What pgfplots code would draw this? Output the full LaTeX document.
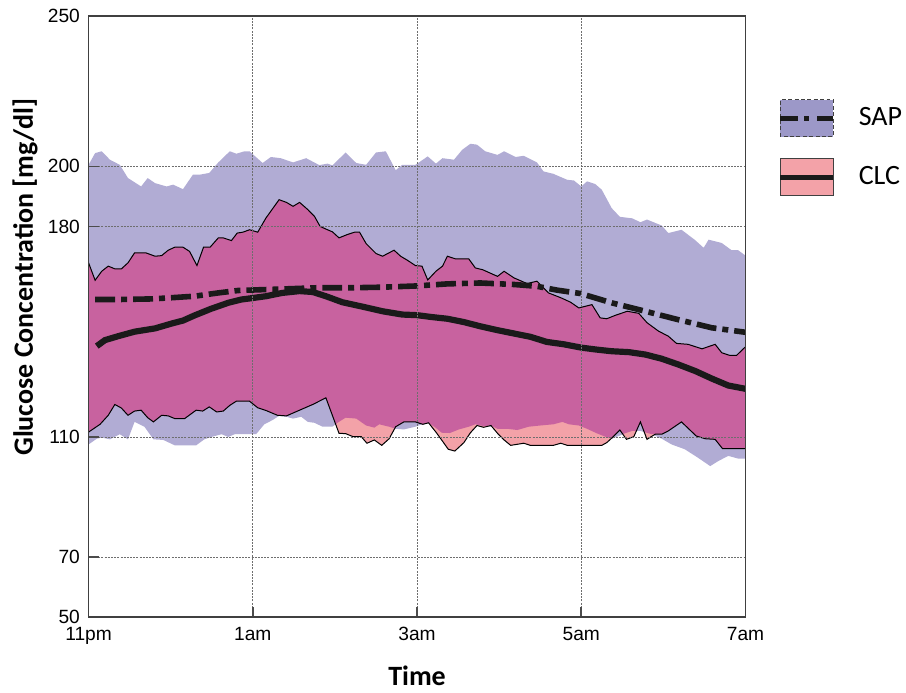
\documentclass[border=0pt]{standalone}
\usepackage{pgfplots}
\pgfplotsset{compat=1.18}
\usepgfplotslibrary{fillbetween}
\usepackage{fontspec}
\setmainfont{Carlito}
\newfontfamily\arialf{Liberation Sans}
\definecolor{sapfill}{RGB}{177,172,212}
\definecolor{saplegend}{RGB}{156,152,200}
\definecolor{clcfill}{RGB}{243,162,168}
\definecolor{overlap}{RGB}{200,98,159}
\definecolor{meanline}{RGB}{26,26,26}
\definecolor{gridc}{RGB}{110,110,110}
\begin{document}
\begin{tikzpicture}
\begin{axis}[
  at={(0pt,0pt)}, anchor=south west,
  scale only axis, width=329pt, height=301.15pt,
  xmin=0, xmax=8, ymin=50, ymax=250,
  xtick={0,2,4,6,8}, xticklabels={11pm,1am,3am,5am,7am},
  ytick={50,70,110,180,200,250},
  tick pos=left, tick align=inside,
  major tick length=5pt,
  grid=major,
  grid style={gridc, line width=0.4pt, dash pattern=on 1pt off 0.6pt},
  axis line style={black!75, line width=0.9pt},
  tick style={black!70, line width=0.8pt},
  axis on top,
  /pgf/number format/assume math mode=true,
  tick label style={font=\arialf\fontsize{9.6}{11}\selectfont},
  xticklabel style={anchor=base, yshift=-11.7pt},
  yticklabel style={xshift=-0.8pt},
  legend style={at={(1,1)}, anchor=north west, xshift=16pt, yshift=-41.5pt,
    draw=none, fill=none, inner sep=0pt, row sep=10.35pt,
    font=\fontsize{14}{16}\selectfont,
    /tikz/every odd column/.append style={column sep=9.5pt}},
  legend cell align=left,
]
% SAP band
\addplot[draw=none, name path=sapHi, forget plot] coordinates {
(0,200.5)(0.08,204.4)(0.16,205.0)(0.26,202.2)(0.38,200.5)(0.48,196.1)(0.64,193.3)(0.72,196.1)(0.81,194.4)(0.95,193.3)(1.03,193.9)(1.15,192.4)(1.27,197.2)(1.35,197.2)(1.47,197.8)(1.58,201.3)(1.72,205.0)(1.80,204.2)(1.90,205.0)(1.96,205.0)(2.12,201.1)(2.22,203.1)(2.34,202.7)(2.49,201.3)(2.65,202.7)(2.81,200.4)(2.91,200.9)(2.97,200.3)(3.13,204.6)(3.26,201.1)(3.38,200.5)(3.50,204.6)(3.62,205.0)(3.74,198.7)(3.82,200.5)(3.98,200.5)(4.13,203.3)(4.23,200.9)(4.31,202.7)(4.45,202.2)(4.55,205.5)(4.65,207.5)(4.73,207.2)(4.83,205.0)(4.98,203.8)(5.06,205.0)(5.20,203.1)(5.30,203.5)(5.46,201.3)(5.54,198.3)(5.66,197.5)(5.83,195.5)(5.91,195.3)(6.00,193.3)(6.07,195.0)(6.17,194.1)(6.25,192.2)(6.37,186.1)(6.47,183.2)(6.62,182.7)(6.72,181.4)(6.80,182.3)(6.98,180.3)(7.06,177.8)(7.22,178.9)(7.38,175.6)(7.49,172.9)(7.55,175.6)(7.71,174.5)(7.83,172.1)(7.91,172.1)(8.00,170.3)};
\addplot[draw=none, name path=sapLo, forget plot] coordinates {
(0,107.5)(0.10,109.4)(0.16,109.8)(0.26,109.2)(0.38,110.9)(0.48,109.2)(0.56,115.0)(0.68,113.4)(0.79,109.2)(0.91,109.0)(1.05,107.2)(1.17,107.2)(1.31,107.2)(1.41,109.2)(1.51,110.1)(1.62,110.9)(1.70,110.0)(1.78,110.9)(2.04,110.9)(2.14,114.2)(2.24,115.6)(2.32,117.0)(2.41,116.7)(2.49,116.1)(2.59,116.7)(2.67,115.0)(2.75,114.7)(2.85,113.4)(2.97,113.4)(3.03,114.7)(3.13,116.4)(3.26,116.1)(3.38,113.8)(3.48,113.1)(3.54,114.2)(3.66,113.4)(3.74,112.7)(3.84,112.5)(3.98,113.4)(4.06,114.2)(4.14,114.7)(4.23,113.0)(4.30,111.4)(4.40,111.3)(4.51,112.5)(4.63,113.4)(4.71,114.2)(4.81,113.6)(4.90,113.4)(4.98,112.7)(5.10,112.7)(5.22,112.3)(5.36,113.4)(5.50,113.8)(5.66,114.2)(5.77,115.0)(5.85,114.2)(5.97,113.8)(6.07,112.7)(6.19,111.2)(6.29,110.1)(6.37,109.4)(6.51,110.9)(6.62,112.0)(6.72,112.0)(6.86,110.9)(6.98,109.4)(7.10,107.5)(7.26,105.9)(7.42,103.1)(7.57,100.3)(7.67,102.0)(7.79,103.7)(7.91,102.8)(8.00,102.8)};
% CLC band (thin black outline)
\addplot[black, line width=0.5pt, name path=clcHi, forget plot] coordinates {
(0,167.9)(0.08,162.1)(0.16,165.1)(0.24,166.8)(0.32,165.9)(0.40,165.9)(0.48,167.9)(0.56,171.2)(0.70,171.2)(0.81,170.1)(0.89,170.3)(0.97,172.1)(1.05,173.1)(1.15,173.1)(1.23,171.7)(1.32,167.0)(1.40,173.1)(1.48,173.1)(1.58,176.2)(1.64,176.2)(1.74,175.3)(1.81,177.8)(1.88,178.1)(1.96,178.9)(2.06,178.1)(2.16,182.8)(2.32,188.9)(2.41,188.0)(2.49,186.7)(2.57,188.0)(2.67,185.6)(2.75,183.4)(2.82,180.0)(2.91,178.9)(2.97,178.2)(3.05,176.2)(3.15,177.3)(3.24,178.1)(3.30,178.1)(3.38,174.3)(3.50,171.0)(3.58,170.1)(3.72,172.1)(3.80,170.1)(3.88,168.8)(3.98,167.0)(4.06,166.8)(4.13,162.2)(4.23,165.1)(4.31,166.8)(4.37,170.1)(4.47,169.2)(4.63,169.2)(4.71,166.2)(4.80,165.6)(4.98,163.4)(5.06,165.1)(5.18,162.9)(5.34,161.0)(5.46,161.8)(5.60,157.9)(5.75,156.3)(5.87,154.8)(5.97,152.9)(6.13,154.0)(6.23,149.6)(6.31,149.3)(6.41,150.4)(6.56,151.8)(6.70,151.1)(6.80,148.0)(6.94,145.2)(7.06,143.5)(7.16,141.1)(7.30,140.8)(7.47,139.3)(7.63,140.8)(7.71,138.0)(7.81,137.1)(7.89,137.1)(8.00,140.0)};
\addplot[black, line width=0.5pt, name path=clcLo, forget plot] coordinates {
(0,111.6)(0.14,114.2)(0.24,117.2)(0.32,120.8)(0.40,119.6)(0.48,117.2)(0.56,118.6)(0.64,118.9)(0.72,116.4)(0.79,115.0)(0.89,117.2)(0.97,117.0)(1.05,116.1)(1.17,116.1)(1.31,118.9)(1.39,118.6)(1.47,120.0)(1.56,118.3)(1.64,118.6)(1.72,120.5)(1.80,121.9)(1.96,121.9)(2.06,119.7)(2.16,118.8)(2.30,117.2)(2.41,117.0)(2.57,118.9)(2.73,120.8)(2.89,123.0)(3.05,111.2)(3.13,111.1)(3.22,110.1)(3.32,110.1)(3.39,107.9)(3.48,109.0)(3.57,107.2)(3.66,109.4)(3.74,113.4)(3.84,115.0)(3.98,115.0)(4.07,114.2)(4.14,114.7)(4.23,111.6)(4.31,108.6)(4.38,105.9)(4.46,105.3)(4.57,108.1)(4.65,111.4)(4.73,113.8)(4.81,113.2)(4.90,113.8)(4.98,111.2)(5.06,109.0)(5.14,107.2)(5.30,107.9)(5.38,107.2)(5.66,107.2)(5.75,107.9)(5.83,107.2)(6.25,107.2)(6.31,108.1)(6.39,110.1)(6.47,112.3)(6.55,109.2)(6.64,110.1)(6.72,115.0)(6.80,109.2)(6.90,110.9)(6.98,110.9)(7.06,112.0)(7.22,115.0)(7.40,110.3)(7.51,109.4)(7.63,109.2)(7.72,106.1)(8.00,106.1)};
% lower edge of the overlap of both bands
\addplot[draw=none, name path=ovLo, forget plot] coordinates {
(0,111.6)(0.14,114.2)(0.24,117.2)(0.32,120.8)(0.40,119.6)(0.48,117.2)(0.56,118.6)(0.64,118.9)(0.72,116.4)(0.79,115.0)(0.89,117.2)(0.97,117.0)(1.05,116.1)(1.17,116.1)(1.31,118.9)(1.39,118.6)(1.47,120.0)(1.56,118.3)(1.64,118.6)(1.72,120.5)(1.80,121.9)(1.96,121.9)(2.06,119.7)(2.16,118.8)(2.30,117.2)(2.41,117.0)(2.57,118.9)(2.73,120.8)(2.89,123.0)(3.01,114.2)(3.03,114.7)(3.13,116.4)(3.26,116.1)(3.38,113.8)(3.48,113.1)(3.54,114.2)(3.66,113.4)(3.73,112.8)(3.74,113.4)(3.84,115.0)(3.98,115.0)(4.07,114.2)(4.14,114.7)(4.23,113.0)(4.30,111.4)(4.40,111.3)(4.51,112.5)(4.63,113.4)(4.71,114.2)(4.81,113.6)(4.90,113.8)(4.98,112.7)(5.10,112.7)(5.22,112.3)(5.36,113.4)(5.50,113.8)(5.66,114.2)(5.77,115.0)(5.85,114.2)(5.97,113.8)(6.07,112.7)(6.19,111.2)(6.29,110.1)(6.36,109.5)(6.39,110.1)(6.47,112.3)(6.51,111.0)(6.62,112.0)(6.67,112.0)(6.72,115.0)(6.77,111.6)(6.86,110.9)(6.90,110.9)(6.98,110.9)(7.06,112.0)(7.22,115.0)(7.40,110.3)(7.51,109.4)(7.63,109.2)(7.72,106.1)(8.00,106.1)};
\addplot[sapfill, forget plot] fill between[of=sapHi and sapLo];
\addplot[clcfill, forget plot] fill between[of=clcHi and clcLo];
\addplot[overlap, forget plot] fill between[of=clcHi and ovLo];
% SAP mean
\addplot[meanline, line width=2.8pt, dash pattern=on 10pt off 3pt on 3pt off 3pt, forget plot] coordinates {
(0.08,155.7)(0.36,155.7)(0.77,155.9)(1.01,156.3)(1.29,156.8)(1.58,157.9)(1.82,158.7)(2.36,159.2)(2.77,159.6)(3.17,159.6)(3.58,159.8)(3.98,160.2)(4.37,160.9)(4.77,161.2)(5.18,160.7)(5.46,160.1)(5.71,158.8)(5.99,157.7)(6.37,154.6)(6.78,151.8)(7.18,149.0)(7.59,146.3)(8.00,144.8)};
% CLC mean
\addplot[meanline, line width=3.1pt, forget plot] coordinates {
(0.10,140.2)(0.20,142.2)(0.36,143.5)(0.56,145.0)(0.81,146.1)(1.01,147.7)(1.15,148.7)(1.29,150.4)(1.49,152.6)(1.70,154.6)(1.86,155.7)(2.00,156.2)(2.16,156.8)(2.36,157.9)(2.57,158.5)(2.73,158.2)(2.89,156.8)(3.09,154.8)(3.34,153.3)(3.58,151.8)(3.82,150.7)(4.00,150.5)(4.17,149.9)(4.37,149.3)(4.57,148.2)(4.77,146.8)(4.98,145.5)(5.18,144.4)(5.38,143.3)(5.58,141.6)(5.79,140.8)(6.00,139.7)(6.17,139.1)(6.37,138.5)(6.58,138.2)(6.78,137.4)(6.98,136.0)(7.18,134.1)(7.39,131.9)(7.59,129.4)(7.79,127.1)(8.00,126.0)};
\addlegendimage{legend image code/.code={
  \draw[fill=saplegend, draw=black!75, line width=0.6pt, dash pattern=on 2pt off 1.2pt] (0pt,-9.25pt) rectangle (26.5pt,9.25pt);
  \draw[meanline, line width=2.5pt, dash pattern=on 8.6pt off 3.4pt on 2.5pt off 3.9pt] (0pt,0pt) -- (26.5pt,0pt);
}}
\addlegendentry{SAP}
\addlegendimage{legend image code/.code={
  \draw[fill=clcfill, draw=black!75, line width=0.6pt] (0pt,-9.25pt) rectangle (26.5pt,9.25pt);
  \draw[meanline, line width=2.5pt] (0pt,0pt) -- (26.5pt,0pt);
}}
\addlegendentry{CLC}
\end{axis}
\node[rotate=90, anchor=base, font=\bfseries\fontsize{14}{16}\selectfont] at (-27.85pt,170.4pt) {Glucose Concentration [mg/dl]};
\node[anchor=base, font=\bfseries\fontsize{14}{16}\selectfont] at (164.5pt,-34.35pt) {Time};
\path (-44.35pt,-35.85pt) rectangle (408.65pt,309.15pt);
\end{tikzpicture}
\end{document}
